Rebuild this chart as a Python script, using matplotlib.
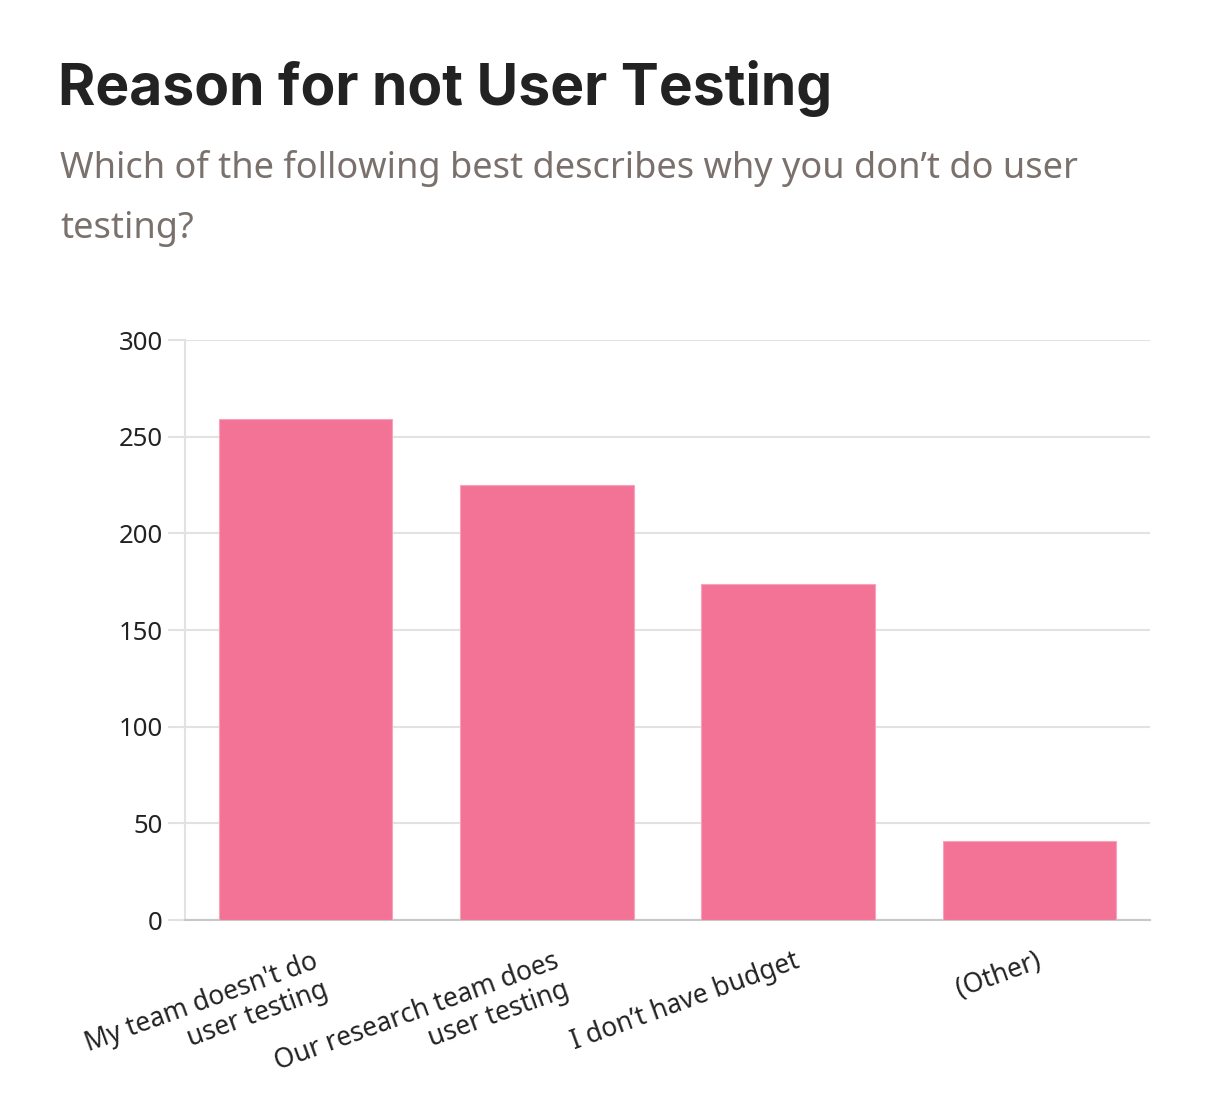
import matplotlib
matplotlib.use('Agg')
import matplotlib.pyplot as plt
import matplotlib.transforms as mtransforms

categories = ["My team doesn't do\nuser testing",
              "Our research team does\nuser testing",
              "I don\u2019t have budget",
              "(Other)"]
counts = [259, 225, 174, 41]
yticks = [0, 50, 100, 150, 200, 250, 300]

W, H = 1208, 1116
fig = plt.figure(figsize=(W / 100, H / 100), dpi=100)
ax = fig.add_axes([185 / W, 1 - 920 / H, 965 / W, 580 / H])

ax.bar(range(len(categories)), counts, width=0.72, color='#f37396',
       edgecolor='#f7a3bb', linewidth=0.8, zorder=3)

ax.set_xlim(-0.5, len(categories) - 0.5)
ax.set_ylim(0, 300)
ax.set_yticks(yticks)
ax.set_yticklabels([str(v) for v in yticks], fontsize=18.5,
                   family='Noto Sans', color='#222222')
ax.grid(axis='y', color='#e2e2e2', linewidth=1.5, zorder=0)
ax.tick_params(axis='y', length=12, width=1.5, color='#e2e2e2', pad=4)
ax.tick_params(axis='x', length=0, pad=20)

ax.set_xticks(range(len(categories)))
ax.set_xticklabels(categories, rotation=20, ha='right',
                   rotation_mode='anchor', multialignment='right',
                   fontsize=19, family='Noto Sans', color='#222222',
                   linespacing=1.1)
# shift labels so their right end sits near the bar centre
offset = mtransforms.ScaledTranslation(0.06, 0, fig.dpi_scale_trans)
for lbl in ax.get_xticklabels():
    lbl.set_transform(lbl.get_transform() + offset)

for side in ['top', 'right']:
    ax.spines[side].set_visible(False)
ax.spines['left'].set_color('#e2e2e2')
ax.spines['left'].set_linewidth(1.5)
ax.spines['bottom'].set_color('#c8c8c8')
ax.spines['bottom'].set_linewidth(1.5)

fig.text(58 / W, 1 - 105 / H, 'Reason for not User Testing',
         fontsize=41, fontweight='bold', family='Inter', color='#222222',
         va='baseline')
fig.text(60 / W, 1 - 178 / H,
         'Which of the following best describes why you don\u2019t do user',
         fontsize=26, family='Noto Sans', color='#7a716c', va='baseline')
fig.text(60 / W, 1 - 238 / H, 'testing?',
         fontsize=26, family='Noto Sans', color='#7a716c', va='baseline')

fig.savefig('out.png', dpi=100, facecolor='white')
